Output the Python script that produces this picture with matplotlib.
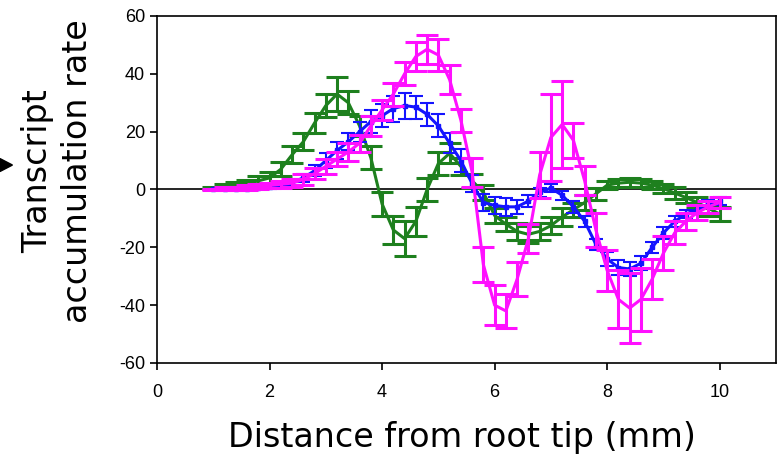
import numpy as np
import matplotlib
matplotlib.use('Agg')
import matplotlib.pyplot as plt
from matplotlib.patches import Polygon

plt.rcParams['axes.unicode_minus'] = False

# distance from root tip (mm)
dist = [1.0, 1.2, 1.4, 1.6, 1.8, 2.0, 2.2, 2.4, 2.6, 2.8,
        3.0, 3.2, 3.4, 3.6, 3.8, 4.0, 4.2, 4.4, 4.6, 4.8,
        5.0, 5.2, 5.4, 5.6, 5.8, 6.0, 6.2, 6.4, 6.6, 6.8,
        7.0, 7.2, 7.4, 7.6, 7.8, 8.0, 8.2, 8.4, 8.6, 8.8,
        9.0, 9.2, 9.4, 9.6, 9.8, 10.0]

green = [0.5, 1, 1.5, 2, 3, 4, 7, 12, 16.5, 23,
         29, 33, 30, 22, 11, -5, -14, -17, -11, 0,
         9, 12.5, 8, 3, -1, -9, -12, -14.5, -15.5, -14.5,
         -12.5, -9.5, -7, -4.5, -1.5, 1.5, 2.2, 2.5, 2.2, 1.5,
         0.3, -1.2, -2.8, -4.5, -6.5, -8.5]
green_err = [0.5, 0.8, 1, 1.2, 1.5, 2, 2.5, 3, 3, 3.5,
             4, 6, 4, 3.5, 4, 4, 5, 6, 5, 4,
             4, 3.5, 3, 2.5, 2.5, 2.5, 2.5, 3, 3, 3,
             3, 3, 2.5, 2.5, 2, 1.5, 1.5, 1.5, 1.5, 1.5,
             1.5, 2, 2, 2, 2.5, 2.5]

blue = [0, 0, 0, 0.2, 0.5, 0.8, 1.2, 2.5, 4, 6.5,
        10, 13.5, 16.5, 20, 23.5, 25.5, 28, 29, 28.5, 26,
        22, 16, 10, 2, -4.5, -5.5, -6, -6, -4, -1,
        0.5, -2, -6, -11, -19, -24, -27, -27.5, -25.5, -20,
        -15, -11, -8.5, -7, -5, -4]
blue_err = [0.2, 0.2, 0.3, 0.3, 0.5, 0.5, 0.8, 1, 1.5, 2,
            2.5, 3, 3, 3.5, 4, 4, 4.5, 4.5, 4, 4,
            4, 3.5, 4, 3, 3, 3, 3, 2.5, 2, 1.5,
            1.5, 1.5, 2, 2, 2, 2.5, 2.5, 2.5, 2.5, 2,
            2, 2, 1.5, 1.5, 1.5, 1.5]

magenta = [0, 0.2, 0.4, 0.7, 1, 1.4, 1.8, 2.2, 3.5, 5.5,
           8, 10.5, 13, 16, 22, 27.5, 33, 40, 46, 48.5,
           46.5, 38, 24, 6, -26, -40, -42, -31, -17, 5,
           18, 22.5, 17, 3, -14, -28, -38, -41, -38, -31,
           -22, -15, -11, -8, -6, -4.5]
magenta_err = [0.3, 0.5, 0.5, 0.8, 1, 1, 1.2, 1.5, 2, 2,
               2.5, 2.5, 3, 3, 3.5, 3.5, 4, 4, 5, 5,
               5.5, 5, 4, 5, 6, 7, 6, 6, 5, 8,
               15, 15, 6, 5, 6, 7, 10, 12, 11, 7,
               6, 4, 3, 2.5, 2, 2]

fig = plt.figure(figsize=(7.78, 4.61), dpi=100)
ax = fig.add_axes([0.2018, 0.2126, 0.7956, 0.7527])

ax.axhline(0, color='black', lw=1.2, zorder=1)

ax.errorbar(dist, green, yerr=green_err, color='#1e801e', lw=2.2,
            elinewidth=2.2, capsize=8, capthick=2.2, zorder=3)
ax.errorbar(dist, blue, yerr=blue_err, color='#1414ff', lw=2.2,
            marker='s', ms=3, elinewidth=1.5, capsize=5, capthick=1.5, zorder=4)
ax.errorbar(dist, magenta, yerr=magenta_err, color='#ff10ff', lw=2.2,
            elinewidth=2.2, capsize=8, capthick=2.2, zorder=5)

ax.set_xlim(0, 11)
ax.set_ylim(-60, 60)
ax.set_xticks([0, 2, 4, 6, 8, 10])
ax.set_yticks([-60, -40, -20, 0, 20, 40, 60])
ax.tick_params(direction='out', length=5, width=1.2, labelsize=13)
for lab in ax.get_xticklabels() + ax.get_yticklabels():
    lab.set_family('Liberation Sans')
ax.tick_params(axis='x', pad=10)
for s in ax.spines.values():
    s.set_linewidth(1.2)

fig.text(0.074, 0.629, 'Transcript\naccumulation rate', rotation=90,
         ha='center', va='center', multialignment='center',
         fontsize=24, linespacing=1.25)
fig.text(0.594, 0.052, 'Distance from root tip (mm)', ha='center',
         va='center', fontsize=24)

# small black pointer at the left edge
tri = Polygon([[0.0, 0.628], [0.0, 0.656], [0.016, 0.642]], closed=True,
              transform=fig.transFigure, color='black')
fig.patches.append(tri)

plt.savefig('out.png', dpi=100)
